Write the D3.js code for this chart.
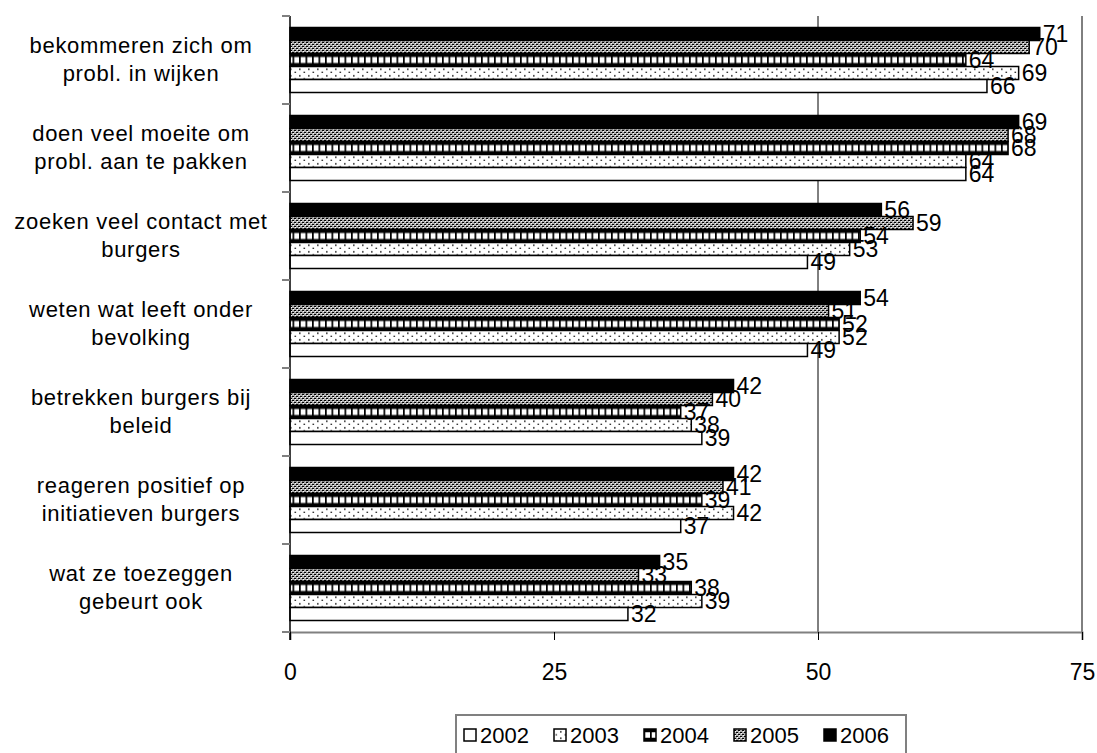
<!DOCTYPE html>
<html><head><meta charset="utf-8">
<script src="https://cdn.jsdelivr.net/npm/d3@7"></script>
<style>body{margin:0;background:#fff}svg{display:block}text{font-family:"Liberation Sans",Arial,sans-serif;fill:#000}</style>
</head><body>
<script>
const categories = [
  ["bekommeren zich om","probl. in wijken"],
  ["doen veel moeite om","probl. aan te pakken"],
  ["zoeken veel contact met","burgers"],
  ["weten wat leeft onder","bevolking"],
  ["betrekken burgers bij","beleid"],
  ["reageren positief op","initiatieven burgers"],
  ["wat ze toezeggen","gebeurt ook"]
];
const years = ["2002","2003","2004","2005","2006"];
const v2002 = [66,64,49,49,39,37,32];
const v2003 = [69,64,53,52,38,42,39];
const v2004 = [64,68,54,52,37,39,38];
const v2005 = [70,68,59,51,40,41,33];
const v2006 = [71,69,56,54,42,42,35];
const xTicks = [0,25,50,75];
const series = {"2002":v2002,"2003":v2003,"2004":v2004,"2005":v2005,"2006":v2006};

const W=1097,H=753;
const svg=d3.select("body").append("svg").attr("width",W).attr("height",H);
const defs=svg.append("defs");

const x=d3.scaleLinear().domain([0,75]).range([290,1082]);
const y=d3.scaleBand().domain(d3.range(categories.length)).range([16,632]);
const order=years.slice().reverse();
const yi=d3.scaleBand().domain(order).range([11.5,y.bandwidth()-11.5]);
const bh=yi.bandwidth();

function makeDots(id,oy){
  const p=defs.append("pattern").attr("id",id).attr("patternUnits","userSpaceOnUse").attr("x",0).attr("y",oy).attr("width",9).attr("height",6.5);
  p.append("rect").attr("width",9).attr("height",6.5).attr("fill","#fff");
  p.append("rect").attr("x",2).attr("y",2).attr("width",1.6).attr("height",1.6).attr("fill","#333");
  p.append("rect").attr("x",6.5).attr("y",5.2).attr("width",1.6).attr("height",1.6).attr("fill","#333");
}
function makeGrid(id,oy,h){
  const p=defs.append("pattern").attr("id",id).attr("patternUnits","userSpaceOnUse").attr("x",0).attr("y",oy).attr("width",6.5).attr("height",h);
  p.append("rect").attr("width",6.5).attr("height",h).attr("fill","#fff");
  p.append("rect").attr("x",0).attr("y",0).attr("width",6.5).attr("height",h*0.27).attr("fill","#000");
  p.append("rect").attr("x",0).attr("y",h*0.73).attr("width",6.5).attr("height",h*0.27).attr("fill","#000");
  p.append("rect").attr("x",0).attr("y",0).attr("width",1.7).attr("height",h).attr("fill","#000");
}
const p5=defs.append("pattern").attr("id","p2005").attr("patternUnits","userSpaceOnUse").attr("width",4).attr("height",4);
p5.append("rect").attr("width",4).attr("height",4).attr("fill","#aaa");
p5.append("rect").attr("x",0).attr("y",0).attr("width",2).attr("height",1).attr("fill","#000");
p5.append("rect").attr("x",2).attr("y",2).attr("width",2).attr("height",1).attr("fill","#000");
p5.append("rect").attr("x",1).attr("y",1).attr("width",1).attr("height",1).attr("fill","#fff");
p5.append("rect").attr("x",3).attr("y",3).attr("width",1).attr("height",1).attr("fill","#fff");

categories.forEach((c,i)=>{
  makeDots("p2003_"+i, y(i)+yi("2003"));
  makeGrid("p2004_"+i, y(i)+yi("2004"), bh);
});
makeDots("p2003_lg",729);
makeGrid("p2004_lg",729,12);
function fillFor(yr,i){
  if(yr==="2002") return "#fff";
  if(yr==="2003") return "url(#p2003_"+i+")";
  if(yr==="2004") return "url(#p2004_"+i+")";
  if(yr==="2005") return "url(#p2005)";
  return "#000";
}

svg.append("g").selectAll("line").data(xTicks.filter(t=>t>=50)).join("line")
  .attr("x1",d=>x(d)).attr("x2",d=>x(d)).attr("y1",16).attr("y2",632).attr("stroke","#000").attr("stroke-width",1);

const g=svg.append("g");
categories.forEach((c,i)=>{
  order.forEach(yr=>{
    const v=series[yr][i];
    const y0=y(i)+yi(yr);
    g.append("rect").attr("x",x(0)).attr("y",y0).attr("width",x(v)-x(0)).attr("height",bh)
      .attr("fill",fillFor(yr,i)).attr("stroke","#000").attr("stroke-width",1.5);
  });
});
categories.forEach((c,i)=>{
  order.forEach(yr=>{
    const v=series[yr][i];
    g.append("text").attr("x",x(v)+3).attr("y",y(i)+yi(yr)+bh/2+8)
      .attr("font-size",23).text(v);
  });
});

const xa=svg.append("g").attr("transform","translate(0,632)")
  .call(d3.axisBottom(x).tickValues(xTicks).tickSize(8).tickFormat(d3.format("d")));
xa.select(".domain").attr("stroke","#808080").attr("stroke-width",2);
xa.selectAll(".tick line").attr("stroke","#000");
xa.selectAll(".tick text").attr("font-size",23).attr("dy",0).attr("y",48).attr("font-family","Liberation Sans, Arial, sans-serif");

const ya=svg.append("g").attr("transform","translate(290,0)");
ya.append("line").attr("x1",0).attr("x2",0).attr("y1",16).attr("y2",640).attr("stroke","#000").attr("stroke-width",1.5);
const bounds=d3.range(categories.length+1).map(i=>i<categories.length?y(i):632);
ya.selectAll("line.tk").data(bounds).join("line").attr("class","tk")
  .attr("x1",-8).attr("x2",0).attr("y1",d=>d).attr("y2",d=>d).attr("stroke","#808080").attr("stroke-width",2);
categories.forEach((c,i)=>{
  const cy=y(i)+y.bandwidth()/2;
  const t=svg.append("text").attr("text-anchor","middle").attr("font-size",22).attr("letter-spacing",0.7).attr("x",141);
  t.append("tspan").attr("x",141).attr("y",cy-7).text(c[0]);
  t.append("tspan").attr("x",141).attr("y",cy+21).text(c[1]);
});

const lg=svg.append("g");
lg.append("rect").attr("x",456).attr("y",715).attr("width",450).attr("height",40).attr("fill","#fff").attr("stroke","#808080").attr("stroke-width",2);
const lgFill={"2002":"#fff","2003":"url(#p2003_lg)","2004":"url(#p2004_lg)","2005":"url(#p2005)","2006":"#000"};
years.forEach((yr,i)=>{
  const lx=464+i*90;
  lg.append("rect").attr("x",lx).attr("y",729).attr("width",12).attr("height",12).attr("fill",lgFill[yr]).attr("stroke","#000").attr("stroke-width",1.5);
  lg.append("text").attr("x",lx+16).attr("y",743).attr("font-size",22).text(yr);
});
</script>
</body></html>
